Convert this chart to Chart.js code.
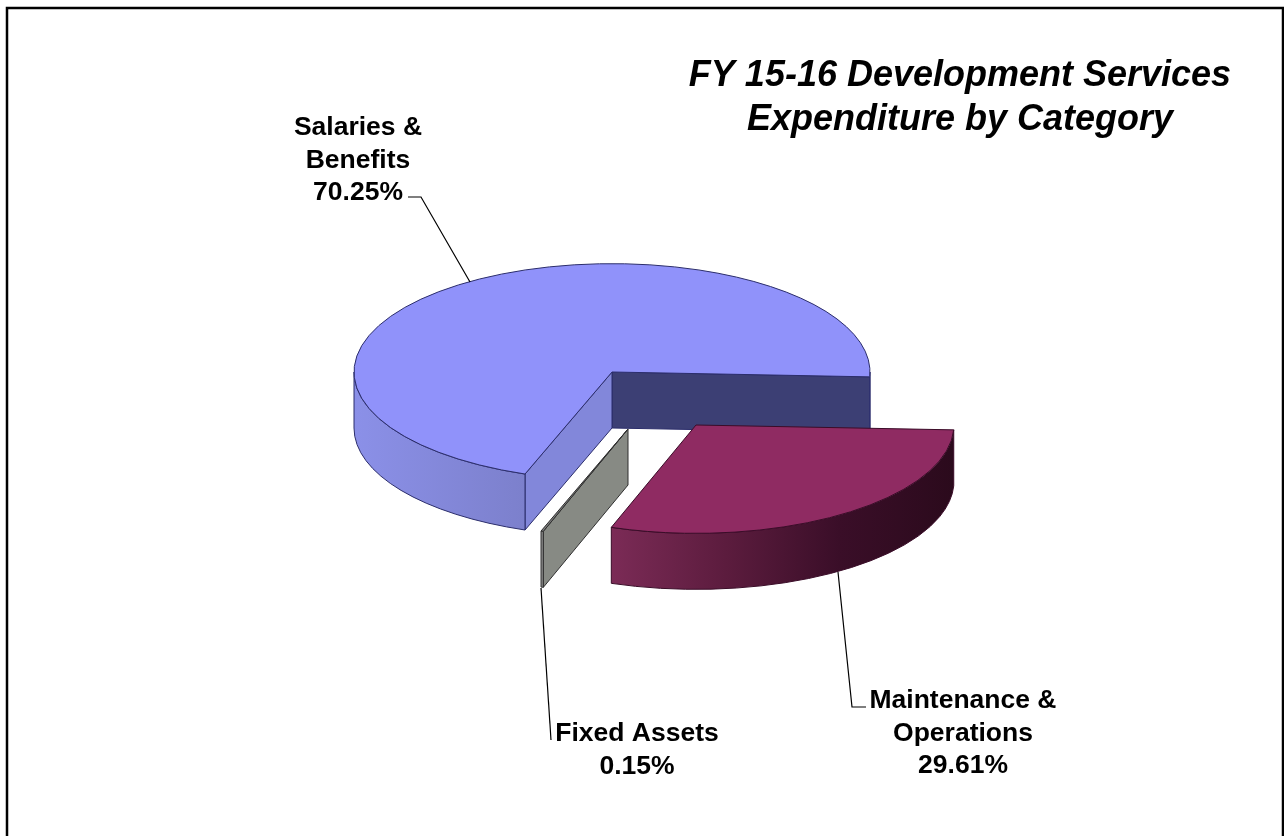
<!DOCTYPE html>
<html>
<head>
<meta charset="utf-8">
<title>FY 15-16 Development Services Expenditure by Category</title>
<script src="https://cdn.jsdelivr.net/npm/chart.js@4"></script>
<style>
  html, body { margin: 0; padding: 0; background: #fff; overflow: hidden; }
  canvas { display: block; }
</style>
</head>
<body>
<canvas id="my-chart" width="1284" height="836"></canvas>
<script>
'use strict';

// ******* DATA *********
let categories = ['Salaries & Benefits', 'Maintenance & Operations', 'Fixed Assets'];
let labelLines = [['Salaries &', 'Benefits'], ['Maintenance &', 'Operations'], ['Fixed Assets']];
let percents = [70.25, 29.61, 0.15];
let titleLines = ['FY 15-16 Development Services', 'Expenditure by Category'];

// ******* LOOK OF THE 3D PIE *********
let pieRadius = 258;
let pieRotation = 199.7;
let squash = 0.42;
let depth = 56;
let explodeX = [0, 84, 16];
let explodeY = [0, 53, 57];
let drawOrder = [0, 2, 1];

let topColors = ['#9092fa', '#8f2b62', '#7c7c7c'];
let edgeColors = ['#2b2d6b', '#3a0c28', '#2e2e2e'];
let wallStops = [
  ['#8b90e8', '#7c80cc'],
  ['#7b2b56', '#5c1c3e', '#3a0e28', '#2b0a1c'],
  ['#8a8a8a', '#8a8a8a']
];
let startFaceColors = ['#8287da', null, '#878a84'];
let endFaceColors = ['#3c3f74', null, null];

// ******* LABEL PLACES *********
let labelX = [358, 963, 637];
let labelY = [135, 708, 741];
let lineGap = 32.5;
let leaders = [
  [[408, 197], [421, 197], [470, 282]],
  [[838, 572], [852, 707], [866, 707]],
  [[541, 588], [551, 740]]
];

// ****** HELPER FUNCTIONS ******
function facePath(ctx, cx, cy, angle) {
  let rimX = cx + pieRadius * Math.cos(angle);
  let rimY = cy + pieRadius * squash * Math.sin(angle);
  ctx.beginPath();
  ctx.moveTo(cx, cy);
  ctx.lineTo(rimX, rimY);
  ctx.lineTo(rimX, rimY + depth);
  ctx.lineTo(cx, cy + depth);
  ctx.closePath();
}

function drawFace(ctx, cx, cy, angle, color, edge) {
  if (!color) {
    return;
  }
  facePath(ctx, cx, cy, angle);
  ctx.fillStyle = color;
  ctx.fill();
  ctx.strokeStyle = edge;
  ctx.stroke();
}

// outer wall, only the part of the rim that faces the viewer
function drawWall(ctx, cx, cy, arc, i) {
  let ry = pieRadius * squash;
  for (let k = 0; k < 3; k++) {
    let from = Math.max(arc.startAngle, k * 2 * Math.PI);
    let to = Math.min(arc.endAngle, k * 2 * Math.PI + Math.PI);
    if (from >= to) {
      continue;
    }
    let leftX = cx + pieRadius * Math.cos(to);
    let rightX = cx + pieRadius * Math.cos(from);
    let gradient = ctx.createLinearGradient(leftX, 0, Math.max(rightX, leftX + 1), 0);
    wallStops[i].forEach((color, n) => gradient.addColorStop(n / (wallStops[i].length - 1), color));
    ctx.beginPath();
    ctx.ellipse(cx, cy, pieRadius, ry, 0, from, to);
    ctx.ellipse(cx, cy + depth, pieRadius, ry, 0, to, from, true);
    ctx.closePath();
    ctx.fillStyle = gradient;
    ctx.fill();
    ctx.strokeStyle = edgeColors[i];
    ctx.stroke();
  }
}

function drawTop(ctx, cx, cy, arc, i) {
  ctx.save();
  ctx.translate(cx, cy);
  ctx.scale(1, squash);
  ctx.translate(-arc.x, -arc.y);
  arc.draw(ctx);
  ctx.restore();

  // outline kept out of the squash so that it stays one pixel wide
  ctx.beginPath();
  ctx.moveTo(cx, cy);
  ctx.ellipse(cx, cy, pieRadius, pieRadius * squash, 0, arc.startAngle, arc.endAngle);
  ctx.closePath();
  ctx.strokeStyle = edgeColors[i];
  ctx.stroke();
}

// ****** PLUGINS ******
let pie3d = {
  id: 'pie3d',
  beforeDatasetDraw(chart, args) {
    let ctx = chart.ctx;
    let arcs = args.meta.data;
    ctx.save();
    ctx.lineWidth = 1;
    ctx.lineJoin = 'round';
    drawOrder.forEach((i) => {
      let arc = arcs[i];
      let cx = arc.x + explodeX[i];
      let cy = arc.y + explodeY[i];
      drawFace(ctx, cx, cy, arc.endAngle, endFaceColors[i], edgeColors[i]);
      drawFace(ctx, cx, cy, arc.startAngle, startFaceColors[i], edgeColors[i]);
      drawWall(ctx, cx, cy, arc, i);
      drawTop(ctx, cx, cy, arc, i);
    });
    ctx.restore();
    return false;
  }
};

let annotations = {
  id: 'annotations',
  beforeDraw(chart) {
    let ctx = chart.ctx;
    ctx.save();
    ctx.strokeStyle = '#000';
    ctx.lineWidth = 2.5;
    ctx.strokeRect(7, 8, 1276, 900);
    ctx.restore();
  },
  afterDraw(chart) {
    let ctx = chart.ctx;
    ctx.save();
    ctx.fillStyle = '#000';
    ctx.textAlign = 'center';
    ctx.textBaseline = 'alphabetic';

    ctx.font = 'italic bold 36px "Liberation Sans", Arial, sans-serif';
    titleLines.forEach((line, n) => ctx.fillText(line, 960, 86 + n * 44));

    ctx.font = 'bold 26.5px "Liberation Sans", Arial, sans-serif';
    categories.forEach((name, i) => {
      let lines = labelLines[i].concat(percents[i].toFixed(2) + '%');
      lines.forEach((line, n) => ctx.fillText(line, labelX[i], labelY[i] + n * lineGap));
    });

    ctx.strokeStyle = '#000';
    ctx.lineWidth = 1.2;
    leaders.forEach((points) => {
      ctx.beginPath();
      points.forEach((p, n) => (n === 0 ? ctx.moveTo(p[0], p[1]) : ctx.lineTo(p[0], p[1])));
      ctx.stroke();
    });
    ctx.restore();
  }
};

// ***** EXECUTABLE CODE ******
new Chart(document.getElementById('my-chart'), {
  type: 'pie',
  data: {
    labels: categories,
    datasets: [{
      data: percents,
      backgroundColor: topColors,
      borderWidth: 0
    }]
  },
  options: {
    responsive: false,
    animation: false,
    rotation: pieRotation,
    radius: pieRadius,
    layout: { padding: { right: 60, bottom: 92 } },
    plugins: { legend: { display: false }, tooltip: { enabled: false }, title: { display: false } }
  },
  plugins: [pie3d, annotations]
});
</script>
</body>
</html>
